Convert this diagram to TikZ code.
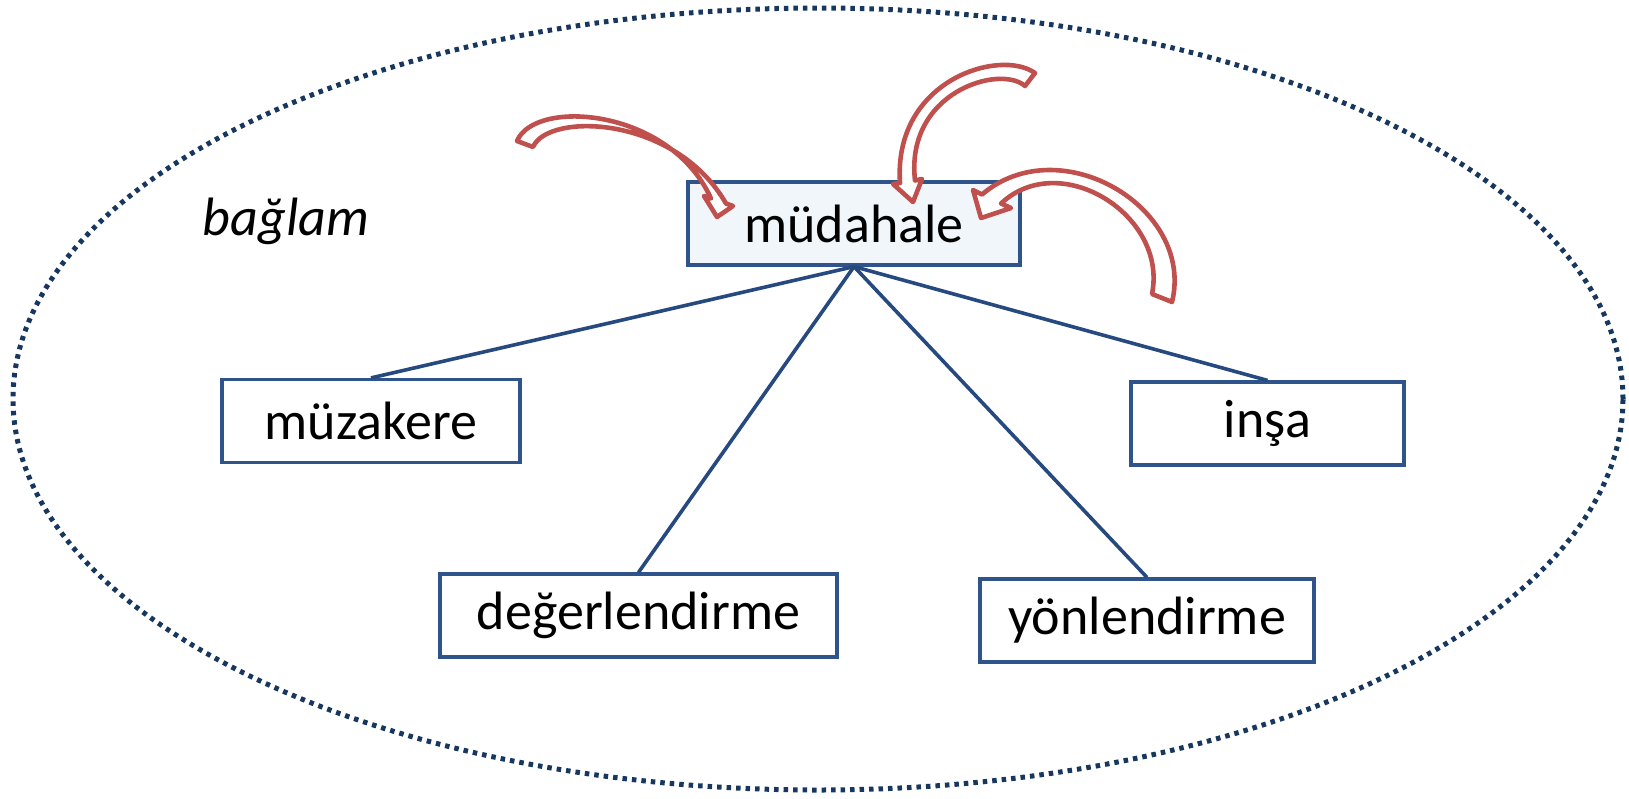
\documentclass[tikz,border=0pt]{standalone}
\usepackage{fontspec}
\setmainfont{Carlito}
\definecolor{boxblue}{RGB}{47,84,140}
\definecolor{linkblue}{RGB}{38,74,128}
\definecolor{dotblue}{RGB}{23,55,94}
\definecolor{arrred}{RGB}{192,80,77}
\definecolor{lightfill}{RGB}{241,246,250}
\tikzset{
  box/.style={draw=boxblue, line width=3.2pt, fill=white, minimum height=83pt, inner sep=0pt,
    font=\fontsize{54}{64}\selectfont},
  link/.style={draw=linkblue, line width=3.6pt},
  ring/.style={draw=dotblue, line width=5pt, dash pattern=on 4.5pt off 5pt},
  redarr/.style={draw=arrred, line width=4.6pt, fill=white, line join=round},
}
\begin{document}
\begin{tikzpicture}[x=1pt,y=-1pt]
\useasboundingbox (0,0) rectangle (1629,798);
\draw[ring] (818,399) ellipse [x radius=805pt, y radius=391pt];
\node (ctx) at (286,221) {\fontsize{54}{64}\selectfont\itshape bağlam};
\node[box, fill=lightfill, minimum width=332pt] (mud) at (854,223.5) {müdahale};
\node[box, minimum width=298pt] (muz) at (371,421) {müzakere};
\node[box, minimum width=273pt] (ins) at (1267.5,423.5) {inşa};
\node[box, minimum width=397pt] (deg) at (638.5,615.5) {değerlendirme};
\node[box, minimum width=334pt] (yon) at (1147,620.5) {yönlendirme};
\draw[link] (mud.south) -- (muz.north);
\draw[link] (mud.south) -- (deg.north);
\draw[link] (mud.south) -- (yon.north);
\draw[link] (mud.south) -- (ins.north);
% curved hollow arrows
\draw[redarr] (517,141) .. controls (535,98) and (670,108) .. (711,198.5) -- (704,196) -- (717,217) -- (733,206) -- (726,203.5) .. controls (675,115) and (548,112) .. (533,147) -- cycle;
\draw[redarr] (1035,73) .. controls (1000,48) and (893,80) .. (900,183) -- (893,184) -- (913,202) -- (922,179) -- (915,180.5) .. controls (905,92) and (1000,64) .. (1025,86) -- cycle;
\draw[redarr] (1172,302) .. controls (1195,208) and (1060,128) .. (982,194.5) -- (973,190) -- (981,218) -- (1011,208) -- (1001,203.5) .. controls (1060,148) and (1168,215) .. (1152,294) -- cycle;
\end{tikzpicture}
\end{document}
